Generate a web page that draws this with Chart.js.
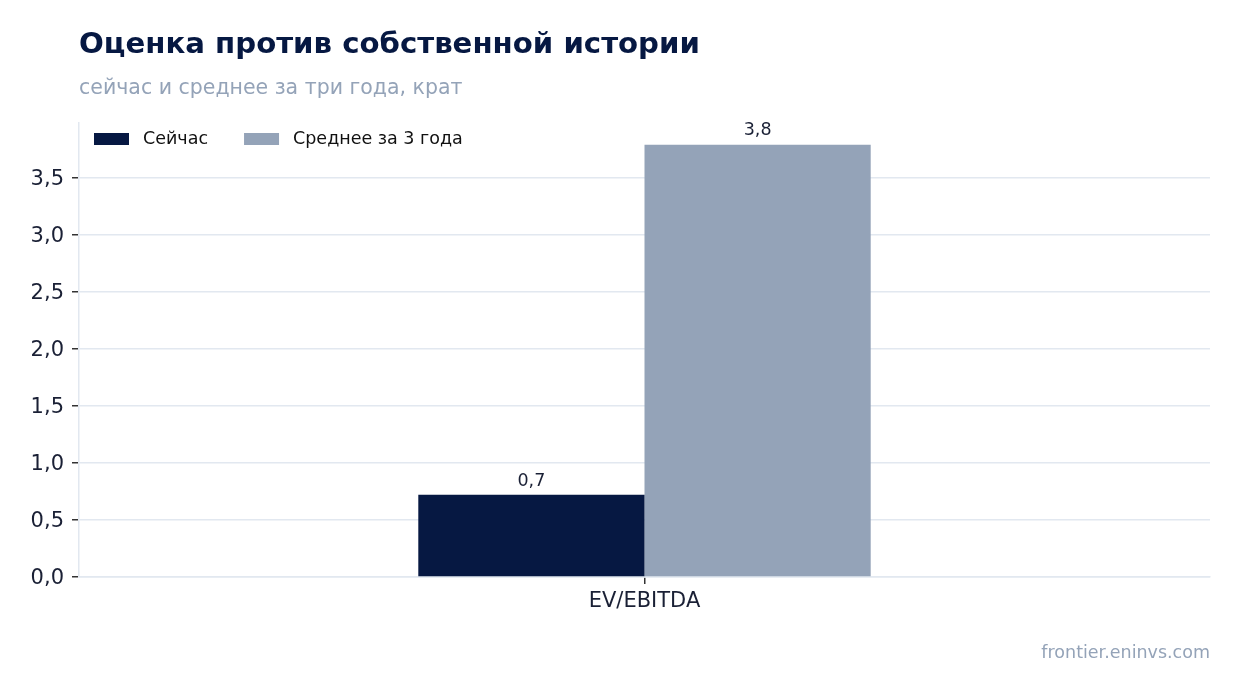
<!DOCTYPE html>
<html>
<head>
<meta charset="utf-8">
<script src="https://cdn.jsdelivr.net/npm/chart.js@4.4.1/dist/chart.umd.min.js"></script>
<style>
  html, body { margin: 0; padding: 0; background: #ffffff; }
  #wrap { position: relative; width: 1241px; height: 693px; overflow: hidden; font-family: "DejaVu Sans", sans-serif; }
  #title { position: absolute; left: 79px; top: 27px; font-size: 29.2px; line-height: 32px; font-weight: bold; color: #061842; white-space: nowrap; }
  #subtitle { position: absolute; left: 79px; top: 76px; font-size: 20.5px; line-height: 23px; color: #94a3b8; white-space: nowrap; }
  #footer { position: absolute; right: 31px; top: 642px; font-size: 17.5px; line-height: 20px; color: #94a3b8; white-space: nowrap; }
  canvas { position: absolute; left: 0; top: 0; }
</style>
</head>
<body>
<div id="wrap">
  <canvas id="c" width="1241" height="693"></canvas>
  <div id="title">Оценка против собственной истории</div>
  <div id="subtitle">сейчас и среднее за три года, крат</div>
  <div id="footer">frontier.eninvs.com</div>
</div>
<script>
const categories = ["EV/EBITDA"];
const seriesNames = ["Сейчас", "Среднее за 3 года"];
const nowValues = [0.72];
const avgValues = [3.79];
const seriesColors = ["#061842", "#94a3b8"];
const yTicks = [0, 0.5, 1.0, 1.5, 2.0, 2.5, 3.0, 3.5];

const fmt = v => v.toFixed(1).replace('.', ',');

const valueLabels = {
  id: 'valueLabels',
  afterDatasetsDraw(chart) {
    const ctx = chart.ctx;
    ctx.save();
    ctx.font = '17.5px "DejaVu Sans"';
    ctx.fillStyle = '#1a2035';
    ctx.textAlign = 'center';
    ctx.textBaseline = 'bottom';
    chart.data.datasets.forEach((ds, i) => {
      const meta = chart.getDatasetMeta(i);
      meta.data.forEach((bar, j) => {
        ctx.fillText(fmt(ds.data[j]), bar.x, bar.y - 5);
      });
    });
    ctx.restore();
  }
};

const innerLegend = {
  id: 'innerLegend',
  afterDraw(chart) {
    const ctx = chart.ctx;
    const area = chart.chartArea;
    ctx.save();
    ctx.font = '17.5px "DejaVu Sans"';
    ctx.textBaseline = 'middle';
    ctx.textAlign = 'left';
    let x = area.left + 15;
    const y = 139;
    chart.data.datasets.forEach(ds => {
      ctx.fillStyle = ds.backgroundColor;
      ctx.fillRect(x, y - 6, 35, 12);
      x += 35 + 14;
      ctx.fillStyle = '#111111';
      ctx.fillText(ds.label, x, y);
      x += ctx.measureText(ds.label).width + 36;
    });
    ctx.restore();
  }
};

new Chart(document.getElementById('c'), {
  type: 'bar',
  data: {
    labels: categories,
    datasets: [
      { label: seriesNames[0], data: nowValues, backgroundColor: seriesColors[0] },
      { label: seriesNames[1], data: avgValues, backgroundColor: seriesColors[1] }
    ]
  },
  options: {
    responsive: false,
    animation: false,
    devicePixelRatio: 1,
    categoryPercentage: 0.4,
    barPercentage: 1.0,
    layout: { padding: { top: 123, right: 31, bottom: 76, left: 0 } },
    plugins: { legend: { display: false }, tooltip: { enabled: false }, title: { display: false } },
    scales: {
      x: {
        grid: { display: true, drawOnChartArea: false, offset: false, tickColor: '#333333', tickLength: 7, lineWidth: 1.5 },
        border: { color: '#e2e8f0', width: 1.5 },
        ticks: { color: '#1a2035', font: { family: 'DejaVu Sans', size: 21 }, padding: 5 },
        afterFit(s) { s.height = 40; }
      },
      y: {
        min: 0,
        max: 3.98,
        grid: { color: '#e2e8f0', lineWidth: 1.5, tickColor: '#333333', tickLength: 7 },
        border: { color: '#e2e8f0', width: 1.5 },
        ticks: {
          includeBounds: false,
          stepSize: 0.5,
          color: '#1a2035',
          font: { family: 'DejaVu Sans', size: 21 },
          padding: 8,
          labelOffset: 2,
          callback: v => yTicks.includes(v) ? fmt(v) : ''
        },
        afterFit(s) { s.width = 79; }
      }
    }
  },
  plugins: [valueLabels, innerLegend]
});
</script>
</body>
</html>
